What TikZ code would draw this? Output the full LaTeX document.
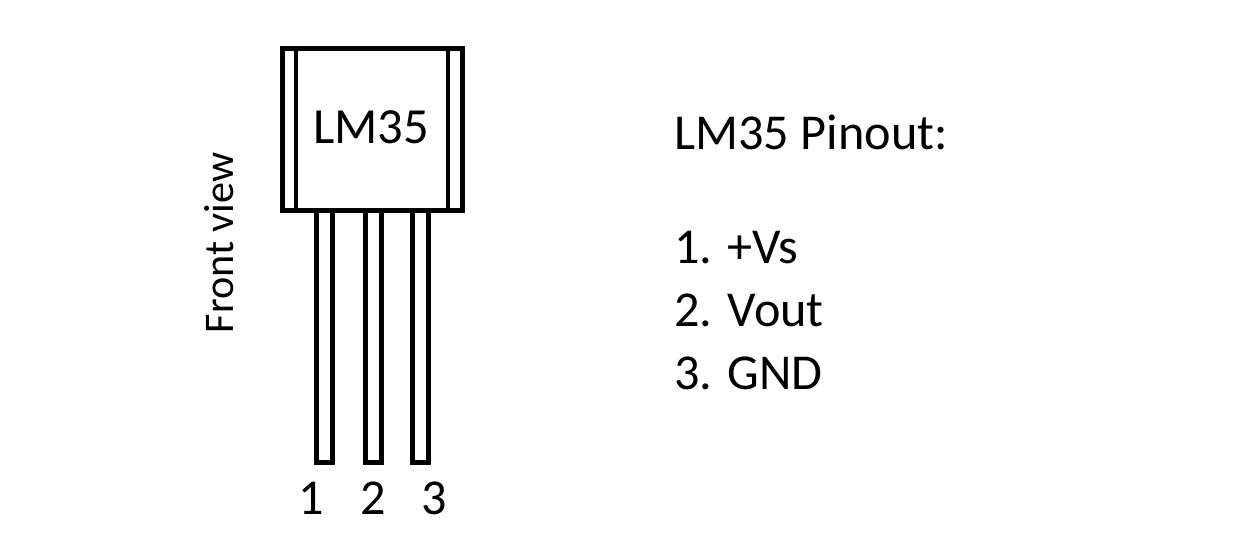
\documentclass[tikz,border=0pt]{standalone}
\usepackage{fontspec}
\setmainfont{Carlito}
\tikzset{
    pinline/.style={line width=0.1cm},
    bodytext/.style={font=\fontsize{28.6}{32}\selectfont, anchor=base west, inner sep=0pt},
    pintext/.style={font=\fontsize{28.6}{32}\selectfont, anchor=base, inner sep=0pt}
}
\begin{document}
\begin{tikzpicture}[x=0.02cm,y=-0.02cm]
        \useasboundingbox (0,0) rectangle (1246,546);
        \draw[pinline] (282.5,48.5) rectangle (462.5,210.5);
        \draw[line width=0.07cm] (296,48) -- (296,211);
        \draw[line width=0.07cm] (448,48) -- (448,211);
        \draw[pinline] (316.5,211) -- (316.5,462.5) -- (332.5,462.5) -- (332.5,211);
        \draw[pinline] (365.5,211) -- (365.5,462.5) -- (381.5,462.5) -- (381.5,211);
        \draw[pinline] (412.5,211) -- (412.5,462.5) -- (428.5,462.5) -- (428.5,211);
        \node[font=\fontsize{28.8}{32}\selectfont, anchor=base, inner sep=0pt] (chipname) at (371,144) {LM35};
        \node[font=\fontsize{24}{28}\selectfont, rotate=90, anchor=base, inner sep=0pt] (viewname) at (233,243) {Front view};
        \node[pintext] (pinone) at (311,514) {1};
        \node[pintext] (pintwo) at (373,514) {2};
        \node[pintext] (pinthree) at (434,514) {3};
        \node[bodytext] (pinouttitle) at (674,150) {LM35 Pinout:};
        \node[bodytext] (vsline) at (674,264) {1. +Vs};
        \node[bodytext] (voutline) at (674,327) {2. Vout};
        \node[bodytext] (gndline) at (674,390) {3. GND};
    \end{tikzpicture}
\end{document}
